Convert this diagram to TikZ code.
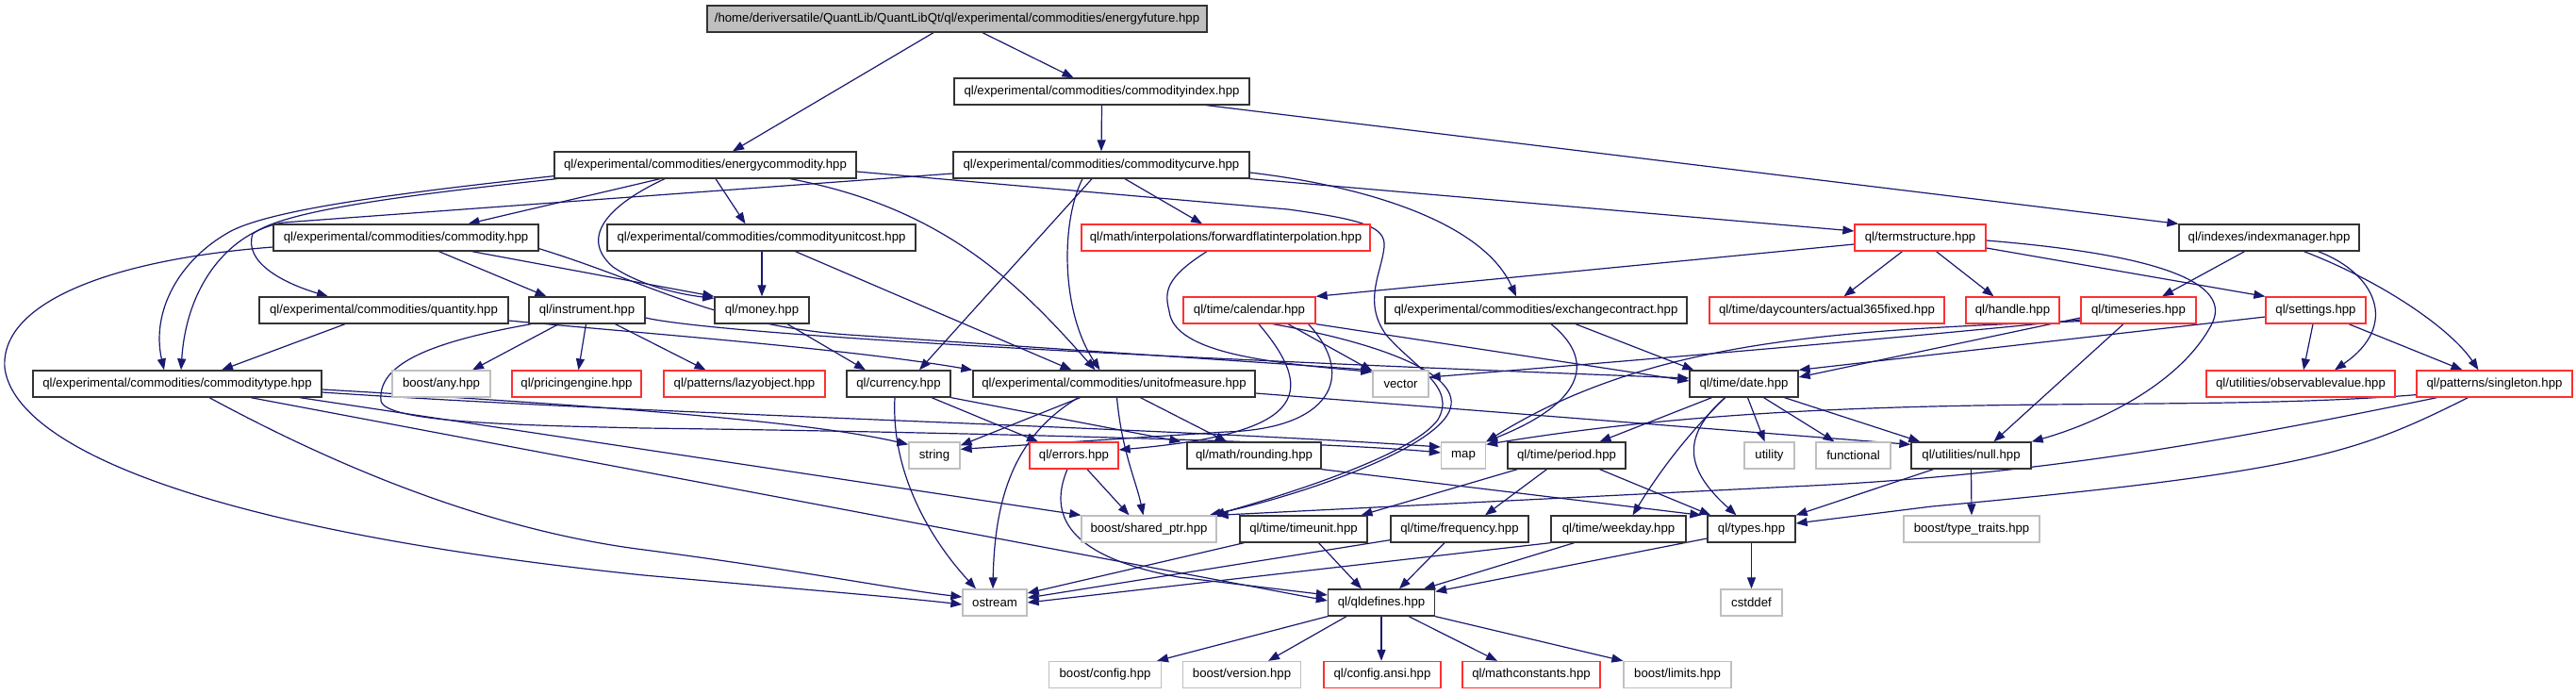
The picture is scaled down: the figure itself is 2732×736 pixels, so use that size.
\documentclass[tikz,border=0pt]{standalone}
\usepackage{fontspec}
\setmainfont{Liberation Sans}
\usetikzlibrary{arrows.meta,calc}
\definecolor{edgec}{HTML}{191970}
\definecolor{redb}{HTML}{FF3030}
\definecolor{grayb}{HTML}{BFBFBF}
\definecolor{blackb}{HTML}{333333}
\pgfdeclarelayer{bg}
\pgfsetlayers{bg,main}
\tikzset{
 box/.style={draw=blackb, line width=1.3pt, minimum height=28pt, inner sep=0pt, font=\fontsize{13.2}{15}\selectfont, fill=white},
 rbox/.style={box, draw=redb},
 gbox/.style={box, draw=grayb},
 edge/.style={draw=edgec, line width=1.2pt, -{Triangle[length=12pt,width=9pt]}},
}
\begin{document}
\begin{tikzpicture}[x=1pt,y=-1pt]
\useasboundingbox (0,0) rectangle (2732,736);
\node[box, fill=grayb, minimum width=530pt] (ef) at (1015,20) {/home/deriversatile/QuantLib/QuantLibQt/ql/experimental/commodities/energyfuture.hpp};
\node[box, minimum width=313pt] (ci) at (1168.5,97) {ql/experimental/commodities/commodityindex.hpp};
\node[box, minimum width=320pt] (ec) at (748,175) {ql/experimental/commodities/energycommodity.hpp};
\node[box, minimum width=314pt] (cc) at (1168,175) {ql/experimental/commodities/commoditycurve.hpp};
\node[box, minimum width=281pt] (com) at (430.5,252) {ql/experimental/commodities/commodity.hpp};
\node[box, minimum width=327pt] (cuc) at (807.5,252) {ql/experimental/commodities/commodityunitcost.hpp};
\node[rbox, minimum width=306pt] (ffi) at (1300,252) {ql/math/interpolations/forwardflatinterpolation.hpp};
\node[rbox, minimum width=139pt] (ts) at (2036.5,252) {ql/termstructure.hpp};
\node[box, minimum width=191pt] (im) at (2406.5,252) {ql/indexes/indexmanager.hpp};
\node[box, minimum width=264pt] (qty) at (407,329) {ql/experimental/commodities/quantity.hpp};
\node[box, minimum width=123pt] (inst) at (622.5,329) {ql/instrument.hpp};
\node[box, minimum width=100pt] (money) at (808,329) {ql/money.hpp};
\node[rbox, minimum width=140pt] (cal) at (1325,329) {ql/time/calendar.hpp};
\node[box, minimum width=320pt] (exc) at (1629,329) {ql/experimental/commodities/exchangecontract.hpp};
\node[rbox, minimum width=249pt] (a365) at (1937.5,329) {ql/time/daycounters/actual365fixed.hpp};
\node[rbox, minimum width=99pt] (handle) at (2134.5,329) {ql/handle.hpp};
\node[rbox, minimum width=122pt] (tser) at (2268,329) {ql/timeseries.hpp};
\node[rbox, minimum width=106pt] (settings) at (2456,329) {ql/settings.hpp};
\node[box, minimum width=306pt] (ct) at (188,407) {ql/experimental/commodities/commoditytype.hpp};
\node[gbox, minimum width=104pt] (any) at (468,407) {boost/any.hpp};
\node[rbox, minimum width=137pt] (pe) at (611.5,407) {ql/pricingengine.hpp};
\node[rbox, minimum width=171pt] (lazy) at (789.5,407) {ql/patterns/lazyobject.hpp};
\node[box, minimum width=110pt] (cur) at (953,407) {ql/currency.hpp};
\node[box, minimum width=299pt] (uom) at (1181.5,407) {ql/experimental/commodities/unitofmeasure.hpp};
\node[gbox, minimum width=59pt] (vector) at (1485.5,407) {vector};
\node[box, minimum width=115pt] (date) at (1849.5,407) {ql/time/date.hpp};
\node[rbox, minimum width=200pt] (obs) at (2440,407) {ql/utilities/observablevalue.hpp};
\node[rbox, minimum width=165pt] (single) at (2645.5,407) {ql/patterns/singleton.hpp};
\node[gbox, minimum width=54pt] (string) at (991,483) {string};
\node[rbox, minimum width=94pt] (errors) at (1139,483) {ql/errors.hpp};
\node[box, minimum width=142pt] (round) at (1330,483) {ql/math/rounding.hpp};
\node[gbox, minimum width=47pt] (map) at (1552,483) {map};
\node[box, minimum width=125pt] (period) at (1661.5,483) {ql/time/period.hpp};
\node[gbox, minimum width=53pt] (utility) at (1876.5,483) {utility};
\node[gbox, minimum width=79pt] (functional) at (1965.5,483) {functional};
\node[box, minimum width=127pt] (null) at (2090.5,483) {ql/utilities/null.hpp};
\node[gbox, minimum width=143pt] (sp) at (1218.5,561) {boost/shared\_ptr.hpp};
\node[box, minimum width=135pt] (tunit) at (1382.5,561) {ql/time/timeunit.hpp};
\node[box, minimum width=146pt] (freq) at (1548,561) {ql/time/frequency.hpp};
\node[box, minimum width=143pt] (wday) at (1716.5,561) {ql/time/weekday.hpp};
\node[box, minimum width=93pt] (types) at (1857.5,561) {ql/types.hpp};
\node[gbox, minimum width=144pt] (tt) at (2091,561) {boost/type\_traits.hpp};
\node[gbox, minimum width=68pt] (ostream) at (1055,639) {ostream};
\node[box, minimum width=113pt] (qld) at (1465,639) {ql/qldefines.hpp};
\node[gbox, minimum width=65pt] (cstddef) at (1857.5,639) {cstddef};
\node[gbox, minimum width=119pt] (bconfig) at (1172,715.5) {boost/config.hpp};
\node[gbox, minimum width=125pt] (bversion) at (1317,715.5) {boost/version.hpp};
\node[rbox, minimum width=124pt] (cansi) at (1466,715.5) {ql/config.ansi.hpp};
\node[rbox, minimum width=146pt] (mconst) at (1624,715.5) {ql/mathconstants.hpp};
\node[gbox, minimum width=114pt] (blimits) at (1779,715.5) {boost/limits.hpp};

\begin{pgfonlayer}{bg}
\draw[edge] ($(ef.south)+(-25,0)$) -- ($(ec.north)+(29,0)$);
\draw[edge] ($(ef.south)+(27,0)$) -- ($(ci.north)+(-30,0)$);
\draw[edge] (ci.south) -- (cc.north);
\draw[edge] ($(ci.south)+(111,0)$) -- (im.north west);
\draw[edge] ($(ec.south)+(-48,0)$) -- ($(com.north)+(66,0)$);
\draw[edge] ($(ec.south)+(11,0)$) -- ($(cuc.north)+(-17,0)$);
\draw[edge] ($(ec.south west)+(0,-3)$) .. controls (420,205) and (290,222) .. (245,245) .. controls (190,275) and (160,330) .. ($(ct.north)+(-14,0)$);
\draw[edge] ($(ec.south west)+(3,0)$) .. controls (420,208) and (300,224) .. (268,248) .. controls (258,278) and (300,300) .. ($(qty.north)+(-59,0)$);
\draw[edge] ($(cc.west)+(0,9)$) -- (300,236) .. controls (245,246) and (198,300) .. ($(ct.north)+(4,0)$);
\draw[edge] ($(ec.south)+(-43,0)$) .. controls (650,215) and (612,250) .. (650,283) .. controls (680,303) and (720,312) .. ($(money.north west)+(0,2)$);
\draw[edge] ($(com.south)+(70,0)$) -- (money.north west);
\draw[edge] ($(cuc.south)+(0.5,0)$) -- (money.north);
\draw[edge] ($(cuc.south)+(36,0)$) -- ($(uom.north)+(-45,0)$);
\draw[edge] ($(com.south)+(35,0)$) -- ($(inst.north)+(-43,0)$);
\draw[edge] ($(com.west)+(0,10)$) .. controls (120,275) and (0,320) .. (5,390) .. controls (15,470) and (200,560) .. (683,610) .. controls (850,625) and (950,633) .. ($(ostream.west)+(0,2)$);
\draw[edge] ($(com.south east)+(0,-3)$) .. controls (690,300) and (760,345) .. (900,355) -- (vector.north west);
\draw[edge] ($(qty.south)+(-41,0)$) -- ($(ct.north)+(47,0)$);
\draw[edge] ($(qty.east)+(0,11)$) .. controls (700,355) and (900,370) .. (uom.north west);
\draw[edge] ($(inst.south)+(-30,0)$) -- ($(any.north)+(33,0)$);
\draw[edge] ($(inst.south)+(-1,0)$) -- ($(pe.north)+(2,0)$);
\draw[edge] ($(inst.south)+(30,0)$) -- ($(lazy.north)+(-41,0)$);
\draw[edge] ($(inst.east)+(0,8)$) .. controls (750,352) and (1100,375) .. ($(date.west)+(0,-6)$);
\draw[edge] ($(inst.south west)+(3,0)$) .. controls (460,362) and (400,385) .. (404,425) .. controls (408,448) and (550,451) .. (683,454) .. controls (1000,458) and (1400,468) .. ($(map.west)+(0,-3)$);
\draw[edge] ($(ct.east)+(0,6)$) .. controls (600,428) and (850,445) .. ($(string.north west)+(0,3)$);
\draw[edge] ($(ct.east)+(0,9)$) .. controls (700,440) and (1200,452) .. ($(map.west)+(0,-9)$);
\draw[edge] ($(ct.south)+(130,0)$) -- (sp.north west);
\draw[edge] ($(ct.south)+(34,0)$) .. controls (330,480) and (500,560) .. (683,583) .. controls (850,605) and (950,625) .. ($(ostream.west)+(0,-6)$);
\draw[edge] ($(ct.south)+(78,0)$) -- ($(qld.west)+(0,-2)$);
\draw[edge] ($(cc.south)+(-10,0)$) -- ($(cur.north)+(22,0)$);
\draw[edge] ($(cc.south)+(-20,0)$) .. controls (1125,235) and (1125,330) .. ($(uom.north)+(-15,0)$);
\draw[edge] ($(cc.south)+(25,0)$) -- ($(ffi.north)+(-25,0)$);
\draw[edge] (cc.south east) -- ($(ts.west)+(0,-7)$);
\draw[edge] ($(cc.east)+(0,8)$) .. controls (1430,195) and (1570,230) .. ($(exc.north)+(-21,0)$);
\draw[edge] ($(ec.south)+(90,0)$) .. controls (1000,220) and (1080,300) .. ($(uom.north)+(-20,0)$);
\draw[edge] ($(ec.east)+(0,7)$) -- (1366,222) .. controls (1445,233) and (1470,240) .. (1468,262) .. controls (1465,290) and (1445,320) .. (1470,355) .. controls (1500,390) and (1545,410) .. (1525,445) .. controls (1500,480) and (1380,520) .. ($(sp.north east)+(-4,0)$);
\draw[edge] ($(ffi.south)+(-20,0)$) .. controls (1235,295) and (1235,310) .. (1240,330) .. controls (1245,375) and (1350,385) .. ($(vector.north west)+(0,2)$);
\draw[edge] ($(ts.west)+(0,7)$) -- (cal.north east);
\draw[edge] ($(ts.south)+(-19,0)$) -- ($(a365.north)+(18,0)$);
\draw[edge] ($(ts.south)+(17,0)$) -- ($(handle.north)+(-20,0)$);
\draw[edge] ($(ts.east)+(0,11)$) -- (settings.north west);
\draw[edge] ($(ts.east)+(0,3)$) .. controls (2290,270) and (2370,300) .. (2345,345) .. controls (2310,410) and (2220,450) .. (null.north east);
\draw[edge] ($(im.south)+(-26,0)$) -- ($(tser.north)+(25,0)$);
\draw[edge] ($(im.south)+(52,0)$) .. controls (2520,290) and (2545,345) .. ($(obs.north)+(36,0)$);
\draw[edge] ($(im.south)+(37,0)$) .. controls (2530,300) and (2600,350) .. ($(single.north)+(-17,0)$);
\draw[edge] ($(settings.south)+(-3,0)$) -- ($(obs.north)+(3,0)$);
\draw[edge] ($(settings.south)+(35,0)$) -- ($(single.north)+(-34,0)$);
\draw[edge] ($(settings.west)+(0,7)$) -- (date.north east);
\draw[edge] ($(tser.west)+(0,8)$) -- ($(date.east)+(0,-7)$);
\draw[edge] ($(tser.west)+(0,10)$) .. controls (2000,360) and (1700,385) .. ($(vector.east)+(0,-7)$);
\draw[edge] ($(tser.south west)+(0,-3)$) .. controls (1950,350) and (1750,360) .. (map.north east);
\draw[edge] ($(tser.south)+(-16,0)$) -- ($(null.north)+(24,0)$);
\draw[edge] ($(single.south west)+(0,-3)$) .. controls (2300,440) and (1950,410) .. ($(map.north east)+(0,3)$);
\draw[edge] ($(single.south)+(-61,0)$) .. controls (2350,470) and (2150,505) .. (1900,516) -- (sp.north east);
\draw[edge] ($(single.south)+(-28,0)$) .. controls (2500,480) and (2450,500) .. (2049,537) -- ($(types.east)+(0,-6)$);
\draw[edge] ($(null.south)+(-40,0)$) -- (types.north east);
\draw[edge] (null.south) -- (tt.north);
\draw[edge] ($(date.south)+(-34,0)$) -- ($(period.north)+(35,0)$);
\draw[edge] ($(date.south)+(4,0)$) -- ($(utility.north)+(-5,0)$);
\draw[edge] ($(date.south)+(21,0)$) -- ($(functional.north)+(-20,0)$);
\draw[edge] ($(date.south)+(43,0)$) -- ($(null.north west)+(10,0)$);
\draw[edge] ($(date.south)+(-20,0)$) .. controls (1790,460) and (1760,500) .. ($(wday.north)+(15,0)$);
\draw[edge] ($(date.south)+(-20,0)$) .. controls (1780,465) and (1790,500) .. ($(types.north)+(-16,0)$);
\draw[edge] ($(period.south west)+(11,0)$) -- ($(tunit.north)+(61,0)$);
\draw[edge] ($(period.south)+(-21,0)$) -- ($(freq.north)+(27,0)$);
\draw[edge] ($(period.south)+(35,0)$) -- ($(types.north west)+(4,0)$);
\draw[edge] (round.south east) -- ($(types.north west)+(-6,0)$);
\draw[edge] ($(tunit.south)+(16,0)$) -- ($(qld.north)+(-21,0)$);
\draw[edge] ($(freq.south)+(-16,0)$) -- ($(qld.north)+(19,0)$);
\draw[edge] ($(wday.south)+(-47,0)$) -- ($(qld.north)+(45,0)$);
\draw[edge] ($(tunit.south west)+(5,0)$) -- ($(ostream.east)+(0,-10)$);
\draw[edge] ($(freq.south west)+(0,-3)$) -- ($(ostream.east)+(0,-5)$);
\draw[edge] (wday.south west) -- (ostream.east);
\draw[edge] ($(types.west)+(0,10)$) -- ($(qld.north east)+(0,3)$);
\draw[edge] (types.south) -- (cstddef.north);
\draw[edge] (qld.south west) -- ($(bconfig.north)+(55,0)$);
\draw[edge] ($(qld.south)+(-37,0)$) -- ($(bversion.north)+(28,0)$);
\draw[edge] (qld.south) -- ($(cansi.north)+(-1,0)$);
\draw[edge] ($(qld.south)+(29,0)$) -- ($(mconst.north)+(-36,0)$);
\draw[edge] (qld.south east) -- (blimits.north west);
\draw[edge] ($(cur.south)+(-4,0)$) .. controls (945,500) and (985,570) .. ($(ostream.north)+(-20,0)$);
\draw[edge] ($(cur.south)+(35,0)$) -- ($(errors.north)+(-38,0)$);
\draw[edge] (cur.south east) -- ($(round.north west)+(-6,0)$);
\draw[edge] ($(money.south)+(27,0)$) -- ($(cur.north)+(-35,0)$);
\draw[edge] ($(uom.south)+(-36,0)$) -- ($(string.north east)+(0,4)$);
\draw[edge] ($(uom.south)+(-38,0)$) .. controls (1080,460) and (1055,520) .. ($(ostream.north)+(-2,0)$);
\draw[edge] ($(uom.south)+(3,0)$) .. controls (1190,480) and (1205,510) .. ($(sp.north)+(-6,0)$);
\draw[edge] ($(uom.south)+(28,0)$) -- ($(round.north)+(-29,0)$);
\draw[edge] ($(uom.east)+(0,10)$) -- ($(null.north west)+(0,3)$);
\draw[edge] ($(errors.south)+(14,0)$) -- ($(sp.north)+(-21,0)$);
\draw[edge] ($(errors.south)+(-7,0)$) .. controls (1112,545) and (1130,590) .. (1250,612) -- ($(qld.west)+(0,-8)$);
\draw[edge] ($(cal.south)+(41,0)$) -- ($(vector.north west)+(0,1)$);
\draw[edge] (cal.south east) -- ($(date.west)+(0,-3)$);
\draw[edge] ($(cal.south)+(25,0)$) .. controls (1470,365) and (1560,400) .. (1535,440) .. controls (1510,480) and (1380,525) .. ($(sp.north east)+(-8,0)$);
\draw[edge] ($(cal.south)+(10,0)$) .. controls (1400,420) and (1380,460) .. ($(errors.east)+(0,-6)$);
\draw[edge] ($(cal.south east)+(-8,0)$) .. controls (1440,400) and (1410,455) .. (1300,458) -- ($(string.north east)+(0,8)$);
\draw[edge] ($(exc.south)+(42,0)$) -- ($(date.north west)+(5,0)$);
\draw[edge] ($(exc.south)+(16,0)$) .. controls (1690,380) and (1685,425) .. (map.north east);
\end{pgfonlayer}
\end{tikzpicture}
\end{document}
